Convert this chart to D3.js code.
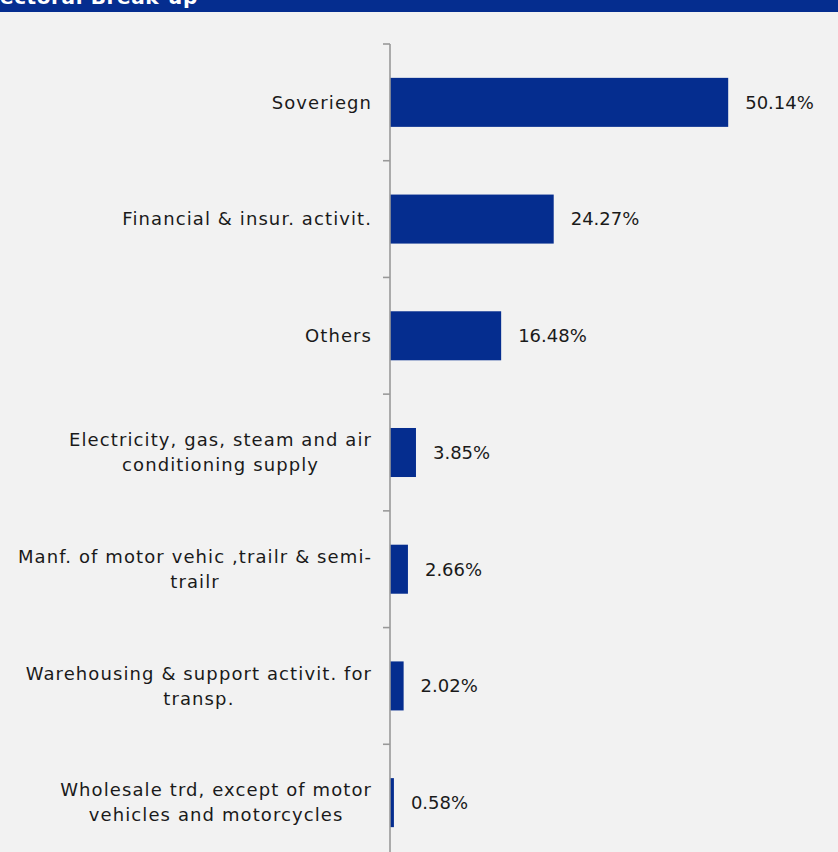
<!DOCTYPE html>
<html>
<head>
<meta charset="utf-8">
<script src="https://cdn.jsdelivr.net/npm/d3@7"></script>
<style>
  html, body { margin: 0; padding: 0; background: #f2f2f2; }
  svg { display: block; }
</style>
</head>
<body>
<svg id="chart" width="838" height="852"></svg>
<script>
// Sector names (each entry is the list of lines shown for that label)
const sectors = [
  ["Soveriegn"],
  ["Financial & insur. activit."],
  ["Others"],
  ["Electricity, gas, steam and air", "conditioning supply"],
  ["Manf. of motor vehic ,trailr & semi-", "trailr"],
  ["Warehousing & support activit. for", "transp."],
  ["Wholesale trd, except of motor", "vehicles and motorcycles"]
];
// Share of the portfolio, in percent
const shares = [50.14, 24.27, 16.48, 3.85, 2.66, 2.02, 0.58];
const title = "Sectoral Break-up";

const W = 838, H = 852;
const blue = "#052d8f";
const font = "'DejaVu Sans', sans-serif";
const fs = 18;

const svg = d3.select("#chart");
svg.append("rect").attr("width", W).attr("height", H).attr("fill", "#f2f2f2");

// Header band
svg.append("rect").attr("x", 0).attr("y", 0).attr("width", W).attr("height", 12).attr("fill", blue);
svg.append("text").attr("x", -15).attr("y", 4)
  .attr("fill", "#fff").attr("font-family", font).attr("font-weight", 700)
  .attr("font-size", 20).attr("letter-spacing", 0.6).text(title);

const keys = sectors.map(s => s.join(" "));
const data = keys.map((k, i) => ({ key: k, lines: sectors[i], value: shares[i] }));

const x0 = 390;
const x = d3.scaleLinear().domain([0, 60]).range([x0, x0 + 404.7]);
const y = d3.scaleBand().domain(keys).range([44, 861]).paddingInner(0.58).paddingOuter(0.29);
const step = y.step();

// Bars
svg.append("g").selectAll("rect").data(data).join("rect")
  .attr("x", x(0)).attr("y", d => y(d.key))
  .attr("width", d => x(d.value) - x(0)).attr("height", y.bandwidth())
  .attr("fill", blue);

// Value labels
svg.append("g").selectAll("text").data(data).join("text")
  .attr("x", d => x(d.value) + 17)
  .attr("y", d => y(d.key) + y.bandwidth() / 2)
  .attr("dy", "0.35em")
  .attr("font-family", font).attr("font-size", fs).attr("fill", "#1a1a1a")
  .text(d => d.value.toFixed(2) + "%");

// Axis line with ticks at the category boundaries
const axis = svg.append("g").attr("stroke", "#999").attr("stroke-width", 1.6);
axis.append("line").attr("x1", x0).attr("x2", x0).attr("y1", 44).attr("y2", H);
keys.forEach((k, i) => {
  const yy = y(k) - y.paddingOuter() * step;
  axis.append("line").attr("x1", x0 - 7).attr("x2", x0).attr("y1", yy).attr("y2", yy);
});

// Category labels, lines centred on each other, block right-aligned to the axis
const labelRight = 371;
const lineH = 25;
const spacing = 1.1;
data.forEach(d => {
  const g = svg.append("g");
  const cy = y(d.key) + y.bandwidth() / 2;
  const n = d.lines.length;
  const texts = d.lines.map((ln, j) => g.append("text")
    .attr("y", cy + (j - (n - 1) / 2) * lineH)
    .attr("dy", "0.35em")
    .attr("font-family", font).attr("font-size", fs).attr("fill", "#1a1a1a")
    .attr("letter-spacing", spacing)
    .attr("text-anchor", "start").text(ln));
  const widths = texts.map(t => t.node().getBBox().width - spacing);
  const maxW = d3.max(widths);
  texts.forEach((t, j) => t.attr("x", labelRight - maxW / 2 - widths[j] / 2));
});
</script>
</body>
</html>
